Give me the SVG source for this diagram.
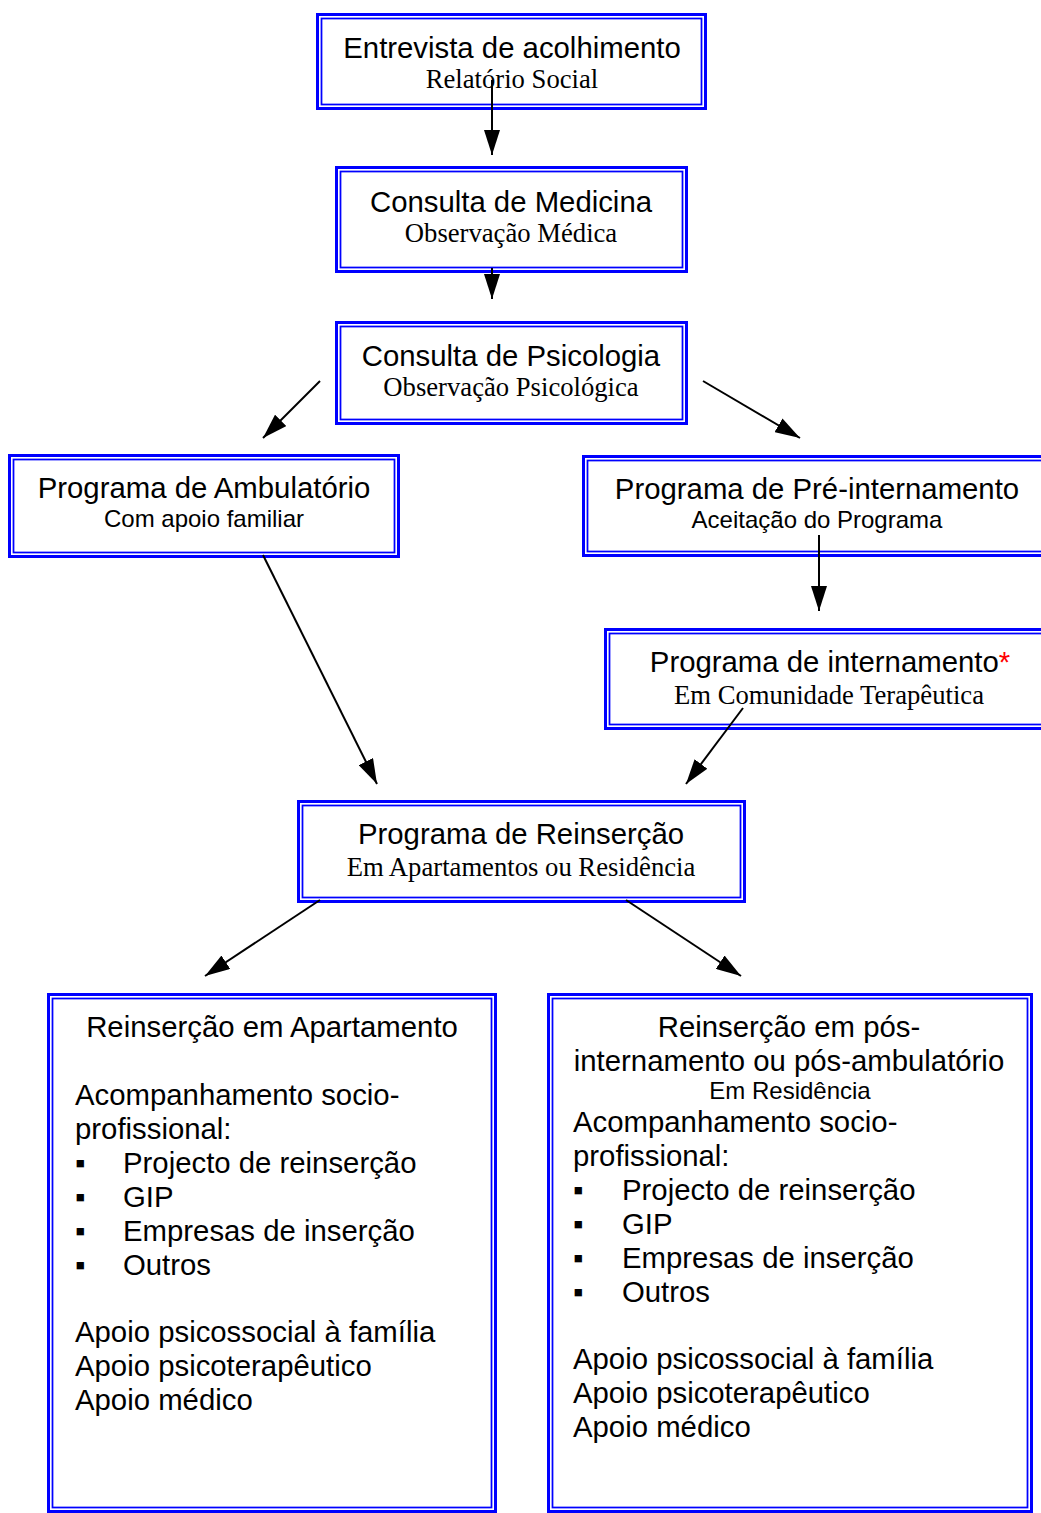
<svg xmlns="http://www.w3.org/2000/svg" width="1041" height="1513" viewBox="0 0 1041 1513">
<style>
.o{fill:#fff;stroke:#0000ff;stroke-width:3}
.i{fill:none;stroke:#0000ff;stroke-width:1.75}
.t{font-family:"Liberation Sans",Arial,sans-serif;font-size:29.33px;fill:#000;text-anchor:middle}
.sa{font-family:"Liberation Sans",Arial,sans-serif;font-size:24px;fill:#000;text-anchor:middle}
.st{font-family:"Liberation Serif","Times New Roman",serif;font-size:26.67px;fill:#000;text-anchor:middle}
.b{font-family:"Liberation Sans",Arial,sans-serif;font-size:29.33px;fill:#000}
.c{stroke:#000;stroke-width:2;fill:none;marker-end:url(#ah)}
</style>
<defs>
<marker id="ah" markerUnits="userSpaceOnUse" markerWidth="26" markerHeight="16" refX="25" refY="8" orient="auto"><path d="M0,0 L25,8 L0,16 z" fill="#000"/></marker>
</defs>
<rect width="1041" height="1513" fill="#fff"/>
<g id="n1">
<rect class="o" x="317.5" y="14.5" width="388" height="94"/>
<rect class="i" x="321.5" y="18.5" width="380" height="86"/>
<text class="t" x="512" y="58">Entrevista de acolhimento</text>
<text class="st" x="512" y="88">Relatório Social</text>
</g>
<g id="n2">
<rect class="o" x="336.5" y="167.5" width="350" height="104"/>
<rect class="i" x="340.5" y="171.5" width="342" height="96"/>
<text class="t" x="511" y="212">Consulta de Medicina</text>
<text class="st" x="511" y="242">Observação Médica</text>
</g>
<g id="n3">
<rect class="o" x="336.5" y="322.5" width="350" height="101"/>
<rect class="i" x="340.5" y="326.5" width="342" height="93"/>
<text class="t" x="511" y="366">Consulta de Psicologia</text>
<text class="st" x="511" y="396">Observação Psicológica</text>
</g>
<g id="n4">
<rect class="o" x="9.5" y="455.5" width="389" height="101"/>
<rect class="i" x="13.5" y="459.5" width="381" height="93"/>
<text class="t" x="204" y="498">Programa de Ambulatório</text>
<text class="sa" x="204" y="527">Com apoio familiar</text>
</g>
<g id="n5">
<rect class="o" x="583.5" y="456.5" width="480" height="99"/>
<rect class="i" x="587.5" y="460.5" width="472" height="91"/>
<text class="t" x="817" y="499">Programa de Pré-internamento</text>
<text class="sa" x="817" y="528">Aceitação do Programa</text>
</g>
<g id="n6">
<rect class="o" x="605.5" y="629.5" width="460" height="99"/>
<rect class="i" x="609.5" y="633.5" width="452" height="91"/>
<text class="t" x="830" y="672">Programa de internamento<tspan fill="#ff0000">*</tspan></text>
<text class="st" x="829" y="704">Em Comunidade Terapêutica</text>
</g>
<g id="n7">
<rect class="o" x="298.5" y="801.5" width="446" height="100"/>
<rect class="i" x="302.5" y="805.5" width="438" height="92"/>
<text class="t" x="521" y="844">Programa de Reinserção</text>
<text class="st" x="521" y="876">Em Apartamentos ou Residência</text>
</g>
<g id="n8">
<rect class="o" x="48.5" y="994.5" width="447" height="517"/>
<rect class="i" x="52.5" y="998.5" width="439" height="509"/>
<text class="t" x="272" y="1037">Reinserção em Apartamento</text>
<text class="b" x="75" y="1105">Acompanhamento socio-</text>
<text class="b" x="75" y="1139">profissional:</text>
<text class="b" x="75" y="1173">▪</text><text class="b" x="123" y="1173">Projecto de reinserção</text>
<text class="b" x="75" y="1207">▪</text><text class="b" x="123" y="1207">GIP</text>
<text class="b" x="75" y="1241">▪</text><text class="b" x="123" y="1241">Empresas de inserção</text>
<text class="b" x="75" y="1275">▪</text><text class="b" x="123" y="1275">Outros</text>
<text class="b" x="75" y="1342">Apoio psicossocial à família</text>
<text class="b" x="75" y="1376">Apoio psicoterapêutico</text>
<text class="b" x="75" y="1410">Apoio médico</text>
</g>
<g id="n9">
<rect class="o" x="548.5" y="994.5" width="483" height="517"/>
<rect class="i" x="552.5" y="998.5" width="475" height="509"/>
<text class="t" x="789" y="1037">Reinserção em pós-</text>
<text class="t" x="789" y="1071">internamento ou pós-ambulatório</text>
<text class="sa" x="790" y="1099">Em Residência</text>
<text class="b" x="573" y="1132">Acompanhamento socio-</text>
<text class="b" x="573" y="1166">profissional:</text>
<text class="b" x="573" y="1200">▪</text><text class="b" x="622" y="1200">Projecto de reinserção</text>
<text class="b" x="573" y="1234">▪</text><text class="b" x="622" y="1234">GIP</text>
<text class="b" x="573" y="1268">▪</text><text class="b" x="622" y="1268">Empresas de inserção</text>
<text class="b" x="573" y="1302">▪</text><text class="b" x="622" y="1302">Outros</text>
<text class="b" x="573" y="1369">Apoio psicossocial à família</text>
<text class="b" x="573" y="1403">Apoio psicoterapêutico</text>
<text class="b" x="573" y="1437">Apoio médico</text>
</g>
<g id="connectors">
<path class="c" d="M492,80 L492,155"/>
<path class="c" d="M492,268 L492,299"/>
<path class="c" d="M320,381 L263,438"/>
<path class="c" d="M703,381 L800,438"/>
<path class="c" d="M263,555 L377,784"/>
<path class="c" d="M819,535 L819,611"/>
<path class="c" d="M743,708 L686,784"/>
<path class="c" d="M320,900 L205,976"/>
<path class="c" d="M626,900 L741,976"/>
</g>
</svg>
